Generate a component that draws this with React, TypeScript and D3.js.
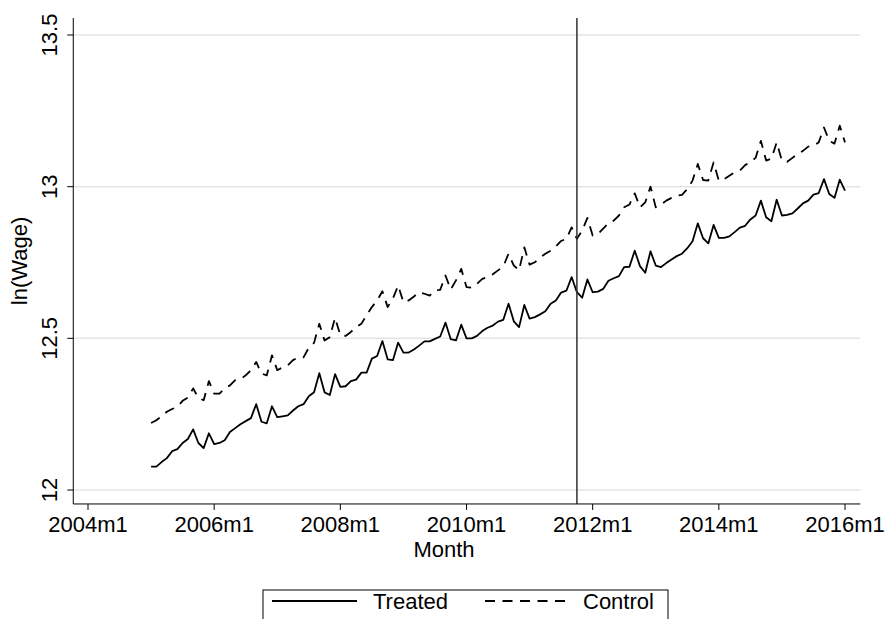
import React from 'react';
import * as d3 from 'd3';

// months counted from 2004m1 = 0
const tickMonths = [0, 24, 48, 72, 96, 120, 144];
const tickLabels = ['2004m1', '2006m1', '2008m1', '2010m1', '2012m1', '2014m1', '2016m1'];
const yTicks = [12, 12.5, 13, 13.5];
const yTickLabels = ['12', '12.5', '13', '13.5'];
const firstMonth = 12; // 2005m1
const treatmentMonth = 93; // 2011m10

const treated = [
  12.077, 12.077, 12.092, 12.105, 12.128, 12.135, 12.155, 12.168, 12.200, 12.155, 12.138, 12.187,
  12.151, 12.155, 12.164, 12.191, 12.204, 12.217, 12.227, 12.237, 12.283, 12.225, 12.220, 12.276,
  12.240, 12.243, 12.246, 12.262, 12.276, 12.283, 12.309, 12.322, 12.385, 12.322, 12.313, 12.382,
  12.340, 12.342, 12.359, 12.364, 12.387, 12.387, 12.433, 12.442, 12.491, 12.431, 12.428, 12.486,
  12.453, 12.453, 12.463, 12.476, 12.490, 12.490, 12.498, 12.506, 12.552, 12.497, 12.493, 12.545,
  12.500, 12.500, 12.508, 12.524, 12.535, 12.542, 12.555, 12.561, 12.614, 12.556, 12.537, 12.610,
  12.565, 12.570, 12.579, 12.589, 12.614, 12.625, 12.651, 12.657, 12.702, 12.652, 12.634, 12.694,
  12.652, 12.654, 12.663, 12.690, 12.698, 12.705, 12.735, 12.736, 12.789, 12.738, 12.716, 12.787,
  12.740, 12.735, 12.748, 12.760, 12.771, 12.779, 12.797, 12.820, 12.879, 12.830, 12.813, 12.874,
  12.831, 12.831, 12.836, 12.850, 12.865, 12.871, 12.892, 12.905, 12.954, 12.899, 12.886, 12.957,
  12.905, 12.907, 12.912, 12.928, 12.945, 12.954, 12.974, 12.979, 13.025, 12.976, 12.963, 13.023,
  12.987,
];

const control = [
  12.221, 12.230, 12.243, 12.258, 12.267, 12.274, 12.294, 12.305, 12.335, 12.303, 12.296, 12.359,
  12.318, 12.318, 12.335, 12.345, 12.362, 12.365, 12.378, 12.395, 12.422, 12.384, 12.378, 12.444,
  12.395, 12.404, 12.411, 12.428, 12.437, 12.437, 12.469, 12.485, 12.548, 12.493, 12.504, 12.568,
  12.510, 12.508, 12.521, 12.537, 12.548, 12.576, 12.603, 12.625, 12.655, 12.603, 12.631, 12.674,
  12.619, 12.625, 12.638, 12.652, 12.647, 12.641, 12.658, 12.660, 12.707, 12.661, 12.691, 12.729,
  12.669, 12.667, 12.680, 12.696, 12.702, 12.711, 12.724, 12.737, 12.779, 12.740, 12.724, 12.800,
  12.743, 12.751, 12.766, 12.779, 12.789, 12.803, 12.821, 12.828, 12.866, 12.828, 12.855, 12.897,
  12.839, 12.844, 12.862, 12.879, 12.888, 12.905, 12.932, 12.941, 12.978, 12.932, 12.948, 13.000,
  12.932, 12.941, 12.954, 12.963, 12.970, 12.973, 12.992, 13.020, 13.075, 13.022, 13.020, 13.080,
  13.020, 13.025, 13.036, 13.047, 13.053, 13.071, 13.082, 13.095, 13.151, 13.086, 13.092, 13.146,
  13.086, 13.082, 13.095, 13.108, 13.118, 13.132, 13.135, 13.146, 13.195, 13.151, 13.142, 13.201,
  13.146,
];

const W = 888;
const H = 619;
const FONT = '"Liberation Sans", Arial, sans-serif';
const FS = 22;
const DASH = '10,7.5';

const Label: React.FC<{ x: number; y: number; rotate?: boolean; anchor?: string; children: React.ReactNode }> = ({
  x, y, rotate, anchor = 'middle', children,
}) => (
  <text
    transform={`translate(${x},${y})${rotate ? ' rotate(-90)' : ''}`}
    textAnchor={anchor}
    fontSize={FS}
    fill="#000"
  >
    {children}
  </text>
);

const App: React.FC = () => {
  const x = d3.scaleLinear().domain([0, 144]).range([88, 845]);
  const y = d3.scaleLinear().domain([12, 13.5]).range([490, 35]);

  // plot region edges (Stata pads a little beyond the ticks)
  const left = x(-2.8);
  const right = x(146.9);
  const bottom = y(11.954);
  const top = y(13.556);

  const line = d3.line<number>()
    .x((_, i) => x(firstMonth + i))
    .y(d => y(d));

  return (
    <svg width={W} height={H} style={{ position: 'absolute', left: 0, top: 0, background: '#fff' }}
      fontFamily={FONT}>
      {/* gridlines */}
      {yTicks.map(t => (
        <line key={t} x1={left} x2={right} y1={y(t)} y2={y(t)} stroke="#e4e4e4" strokeWidth={1.5} />
      ))}

      {/* series */}
      <path d={line(control) || ''} fill="none" stroke="#000" strokeWidth={1.8} strokeDasharray={DASH}
        strokeLinejoin="round" />
      <path d={line(treated) || ''} fill="none" stroke="#000" strokeWidth={1.8} strokeLinejoin="round" />

      {/* treatment line */}
      <line x1={x(treatmentMonth)} x2={x(treatmentMonth)} y1={top} y2={bottom} stroke="#333" strokeWidth={1.5} />

      {/* axes */}
      <line x1={left} x2={left} y1={top} y2={bottom} stroke="#000" strokeWidth={1} />
      <line x1={left} x2={right} y1={bottom} y2={bottom} stroke="#000" strokeWidth={1} />

      {yTicks.map((t, i) => (
        <g key={t}>
          <line x1={left - 6} x2={left} y1={y(t)} y2={y(t)} stroke="#000" strokeWidth={1} />
          <Label x={57} y={y(t)} rotate>{yTickLabels[i]}</Label>
        </g>
      ))}
      <Label x={27} y={(top + bottom) / 2} rotate>ln(Wage)</Label>

      {tickMonths.map((m, i) => (
        <g key={m}>
          <line x1={x(m)} x2={x(m)} y1={bottom} y2={bottom + 6} stroke="#000" strokeWidth={1} />
          <Label x={x(m)} y={532}>{tickLabels[i]}</Label>
        </g>
      ))}
      <Label x={W / 2} y={557}>Month</Label>

      {/* legend */}
      <g>
        <rect x={263} y={590} width={405} height={40} fill="#fff" stroke="#000" strokeWidth={1} />
        <line x1={272} x2={357} y1={601} y2={601} stroke="#000" strokeWidth={1.8} />
        <Label x={373} y={609} anchor="start">Treated</Label>
        <line x1={485} x2={570} y1={601} y2={601} stroke="#000" strokeWidth={1.8} strokeDasharray={DASH} />
        <Label x={583} y={609} anchor="start">Control</Label>
      </g>
    </svg>
  );
};

export default App;
